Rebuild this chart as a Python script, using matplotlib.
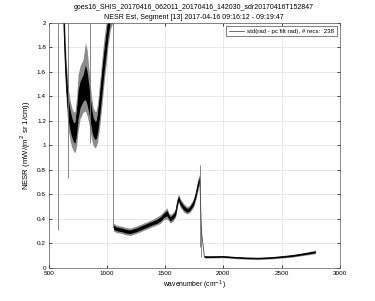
import numpy as np
import matplotlib
matplotlib.use("Agg")
import matplotlib.pyplot as plt

plt.rcParams['font.family'] = ['Liberation Sans', 'DejaVu Sans']
plt.rcParams['font.size'] = 4.6

title_lines = ["goes16_SHIS_20170416_062011_20170416_142030_sdr20170416T152847",
               "NESR Est, Segment [13] 2017-04-16 09:16:12 - 09:19:47"]
legend_label = "std(rad - pc filt rad), # recs:  238"

# noisy band: wavenumber, lower edge, centre, upper edge
wn_a = [626, 643, 655, 669, 685, 700, 715, 726, 740, 752, 770, 795, 815, 830,
        845, 855, 870, 881, 895, 907, 920, 941, 960, 976, 995, 1010, 1030, 1056]
lo_a = [1.9, 1.48, 1.28, 1.12, 1.03, 0.98, 0.95, 0.94, 1.0, 1.12, 1.22, 1.27, 1.28, 1.24,
        1.18, 1.12, 1.04, 1.0, 0.98, 0.99, 1.03, 1.18, 1.36, 1.52, 1.68, 1.82, 1.95, 2.02]
mid_a = [2.1, 1.65, 1.45, 1.28, 1.2, 1.14, 1.1, 1.1, 1.2, 1.32, 1.4, 1.45, 1.47, 1.42,
         1.35, 1.3, 1.2, 1.15, 1.12, 1.12, 1.18, 1.37, 1.55, 1.7, 1.85, 1.97, 2.1, 2.2]
hi_a = [2.3, 1.82, 1.62, 1.45, 1.36, 1.3, 1.27, 1.28, 1.4, 1.58, 1.65, 1.7, 1.84, 1.78,
        1.62, 1.5, 1.38, 1.31, 1.28, 1.28, 1.35, 1.55, 1.74, 1.88, 2.02, 2.12, 2.27, 2.37]

wn_b = [1056, 1080, 1100, 1130, 1160, 1200, 1250, 1300, 1350, 1400, 1430, 1460, 1490, 1515,
        1530, 1544, 1570, 1590, 1605, 1615, 1630, 1660, 1687, 1710, 1744, 1765, 1787, 1796]
lo_b = [0.30, 0.29, 0.285, 0.28, 0.27, 0.265, 0.28, 0.30, 0.32, 0.34, 0.35, 0.365, 0.395, 0.40,
        0.385, 0.365, 0.385, 0.415, 0.495, 0.535, 0.495, 0.455, 0.44, 0.45, 0.495, 0.565, 0.655, 0.685]
mid_b = [0.33, 0.32, 0.315, 0.31, 0.30, 0.295, 0.31, 0.33, 0.35, 0.37, 0.38, 0.40, 0.43, 0.45,
         0.42, 0.40, 0.42, 0.45, 0.53, 0.57, 0.53, 0.49, 0.47, 0.48, 0.53, 0.60, 0.70, 0.72]
hi_b = [0.365, 0.35, 0.345, 0.34, 0.33, 0.325, 0.34, 0.36, 0.38, 0.40, 0.415, 0.435, 0.465, 0.49,
        0.455, 0.435, 0.455, 0.485, 0.565, 0.605, 0.565, 0.525, 0.50, 0.51, 0.565, 0.635, 0.745, 0.765]

wn_c = [1837, 1900, 2000, 2100, 2200, 2300, 2400, 2500, 2600, 2700, 2790]
lo_c = [0.08, 0.081, 0.083, 0.076, 0.071, 0.069, 0.073, 0.08, 0.089, 0.103, 0.116]
mid_c = [0.09, 0.09, 0.092, 0.085, 0.08, 0.078, 0.082, 0.09, 0.10, 0.115, 0.13]
hi_c = [0.1, 0.099, 0.101, 0.094, 0.089, 0.087, 0.091, 0.1, 0.111, 0.127, 0.144]

# thin isolated spikes / jumps: wavenumber, bottom, top
spike_wn = [583, 663, 853, 1056, 1798, 1812]
spike_lo = [0.31, 0.73, 1.02, 0.33, 0.17, 0.09]
spike_hi = [2.0, 2.0, 2.0, 2.0, 0.84, 0.35]

fig = plt.figure(figsize=(3.75, 3.01), dpi=100)
ax = fig.add_axes([0.13, 0.11, 0.776, 0.814])

for w, lo, mid, hi in [(wn_a, lo_a, mid_a, hi_a), (wn_b, lo_b, mid_b, hi_b), (wn_c, lo_c, mid_c, hi_c)]:
    ax.fill_between(w, lo, hi, color='0.55', lw=0)
    ax.fill_between(w, np.add(lo, mid) / 2, np.add(hi, mid) / 2, color='black', lw=0)
    ax.plot(w, mid, color='black', lw=0.6)

ax.vlines(spike_wn, spike_lo, spike_hi, color='0.45', lw=0.6)
# drop from the last spike to the flat part
ax.plot([1798, 1812, 1837], [0.72, 0.3, 0.09], color='0.3', lw=0.6)

ax.plot([], [], color='black', lw=0.4, label=legend_label)
leg = ax.legend(loc='upper right', fontsize=4.4, fancybox=False, framealpha=1,
                edgecolor='0.3', borderpad=0.4, handlelength=2.4, handletextpad=0.6,
                borderaxespad=0.5)
leg.get_frame().set_linewidth(0.5)

ax.set_xlim(500, 3000)
ax.set_ylim(0, 2)
ax.set_xticks([500, 1000, 1500, 2000, 2500, 3000])
ax.set_yticks(np.arange(0, 2.01, 0.2))
ax.set_yticklabels(["0", "0.2", "0.4", "0.6", "0.8", "1", "1.2", "1.4", "1.6", "1.8", "2"])
ax.grid(True, color='0.88', lw=0.5)
ax.set_axisbelow(True)
ax.tick_params(direction='in', length=2, width=0.5, pad=2, top=True, right=True, labelsize=4.6)
for s in ax.spines.values():
    s.set_linewidth(0.5)
    s.set_color('0.35')

ax.set_xlabel("wavenumber (cm$^{-1}$)", fontsize=4.9, labelpad=2)
ax.set_ylabel("NESR (mW/(m$^2$ sr 1/cm))", fontsize=5.6, labelpad=3)
ax.set_title("\n".join(title_lines), fontsize=5.0, pad=3, linespacing=1.45)

fig.savefig("out.png", dpi=100)
